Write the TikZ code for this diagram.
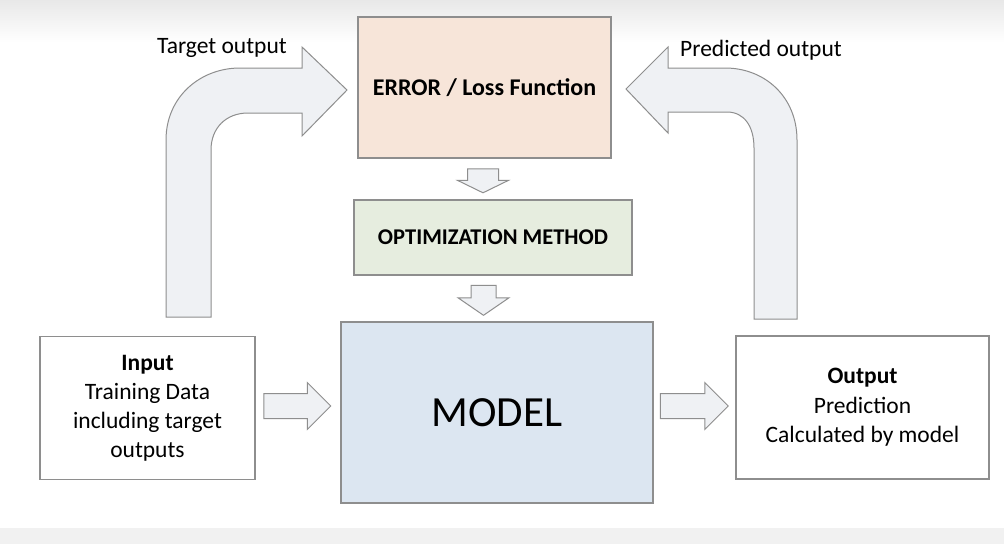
\documentclass[tikz,border=0pt]{standalone}
\usepackage{fontspec}
\setmainfont{Carlito}
\usetikzlibrary{shapes.arrows,calc}
\definecolor{errfill}{HTML}{F7E5D9}
\definecolor{optfill}{HTML}{E6EDDF}
\definecolor{modfill}{HTML}{DCE6F1}
\definecolor{edge}{HTML}{8E8E8E}
\definecolor{arrfill}{HTML}{EFF1F4}
\definecolor{bandgray}{HTML}{F1F1F1}
\begin{document}
\begin{tikzpicture}[x=1pt,y=-1pt,
  box/.style={draw=edge, line width=1.3pt, inner sep=0pt, align=center},
  blockarrow/.style={single arrow, draw=edge, fill=arrfill, line width=1pt,
    inner xsep=0pt},
  bentarrow/.style={draw=edge, fill=arrfill, line width=1pt, line join=miter},
  lbl/.style={font=\fontsize{23.5}{28}\selectfont, inner sep=0pt}]
\useasboundingbox (0,0) rectangle (1004,544);
\fill[white] (0,0) rectangle (1004,544);
\shade[top color=black!9, bottom color=white] (0,0) rectangle (1004,42);
\fill[bandgray] (0,528) rectangle (1004,544);

% boxes
\node[box, fill=errfill, minimum width=253pt, minimum height=141pt,
  font=\bfseries\fontsize{24}{28}\selectfont] (err) at (484.5,87.5) {ERROR / Loss Function};
\node[box, fill=optfill, minimum width=278pt, minimum height=75pt,
  font=\bfseries\fontsize{22.5}{27}\selectfont] (opt) at (493,237.5) {OPTIMIZATION METHOD};
\node[box, fill=modfill, minimum width=312pt, minimum height=181pt,
  font=\fontsize{43}{50}\selectfont] (model) at (497,412.5) {MODEL};
\node[box, fill=white, minimum width=215pt, minimum height=143pt,
  font=\fontsize{23.5}{29}\selectfont] (input) at (147.5,408)
  {\textbf{Input}\\Training Data\\including target\\outputs};
\node[box, fill=white, minimum width=253pt, minimum height=143pt,
  font=\fontsize{23.5}{29.5}\selectfont] (output) at (862.5,407.5)
  {\textbf{Output}\\Prediction\\Calculated by model};

% straight block arrows
\node[blockarrow, inner ysep=12pt, single arrow head extend=11pt,
  minimum height=67pt] (a1) at (291,406) {};
\node[blockarrow, inner ysep=12pt, single arrow head extend=11pt,
  minimum height=68pt] (a2) at (688,406) {};
\node[blockarrow, rotate=-90, inner ysep=15pt, single arrow head extend=10pt,
  single arrow tip angle=128, minimum height=24pt] (d1) at (483,177) {};
\node[blockarrow, rotate=-90, inner ysep=12pt, single arrow head extend=13pt,
  single arrow tip angle=111, minimum height=30pt] (d2) at (483.5,296) {};

% bent arrows
\draw[bentarrow] (166,317) -- (166,140) .. controls (166,97) and (200,68) .. (240,68)
  -- (302,68) -- (302,47) -- (347,90) -- (302,136) -- (302,113) -- (248,113)
  .. controls (226,113) and (211,128) .. (211,150) -- (211,317) -- cycle;
\draw[bentarrow] (797,319) -- (797,140) .. controls (797,97) and (765,68) .. (725,68)
  -- (668,68) -- (668,47) -- (626,89) -- (668,133) -- (668,112) -- (727,112)
  .. controls (744,112) and (754,126) .. (754,148) -- (754,319) -- cycle;

% labels
\node[lbl] (tlbl) at (222,48) {Target output};
\node[lbl] (plbl) at (761,50) {Predicted output};
\end{tikzpicture}
\end{document}
